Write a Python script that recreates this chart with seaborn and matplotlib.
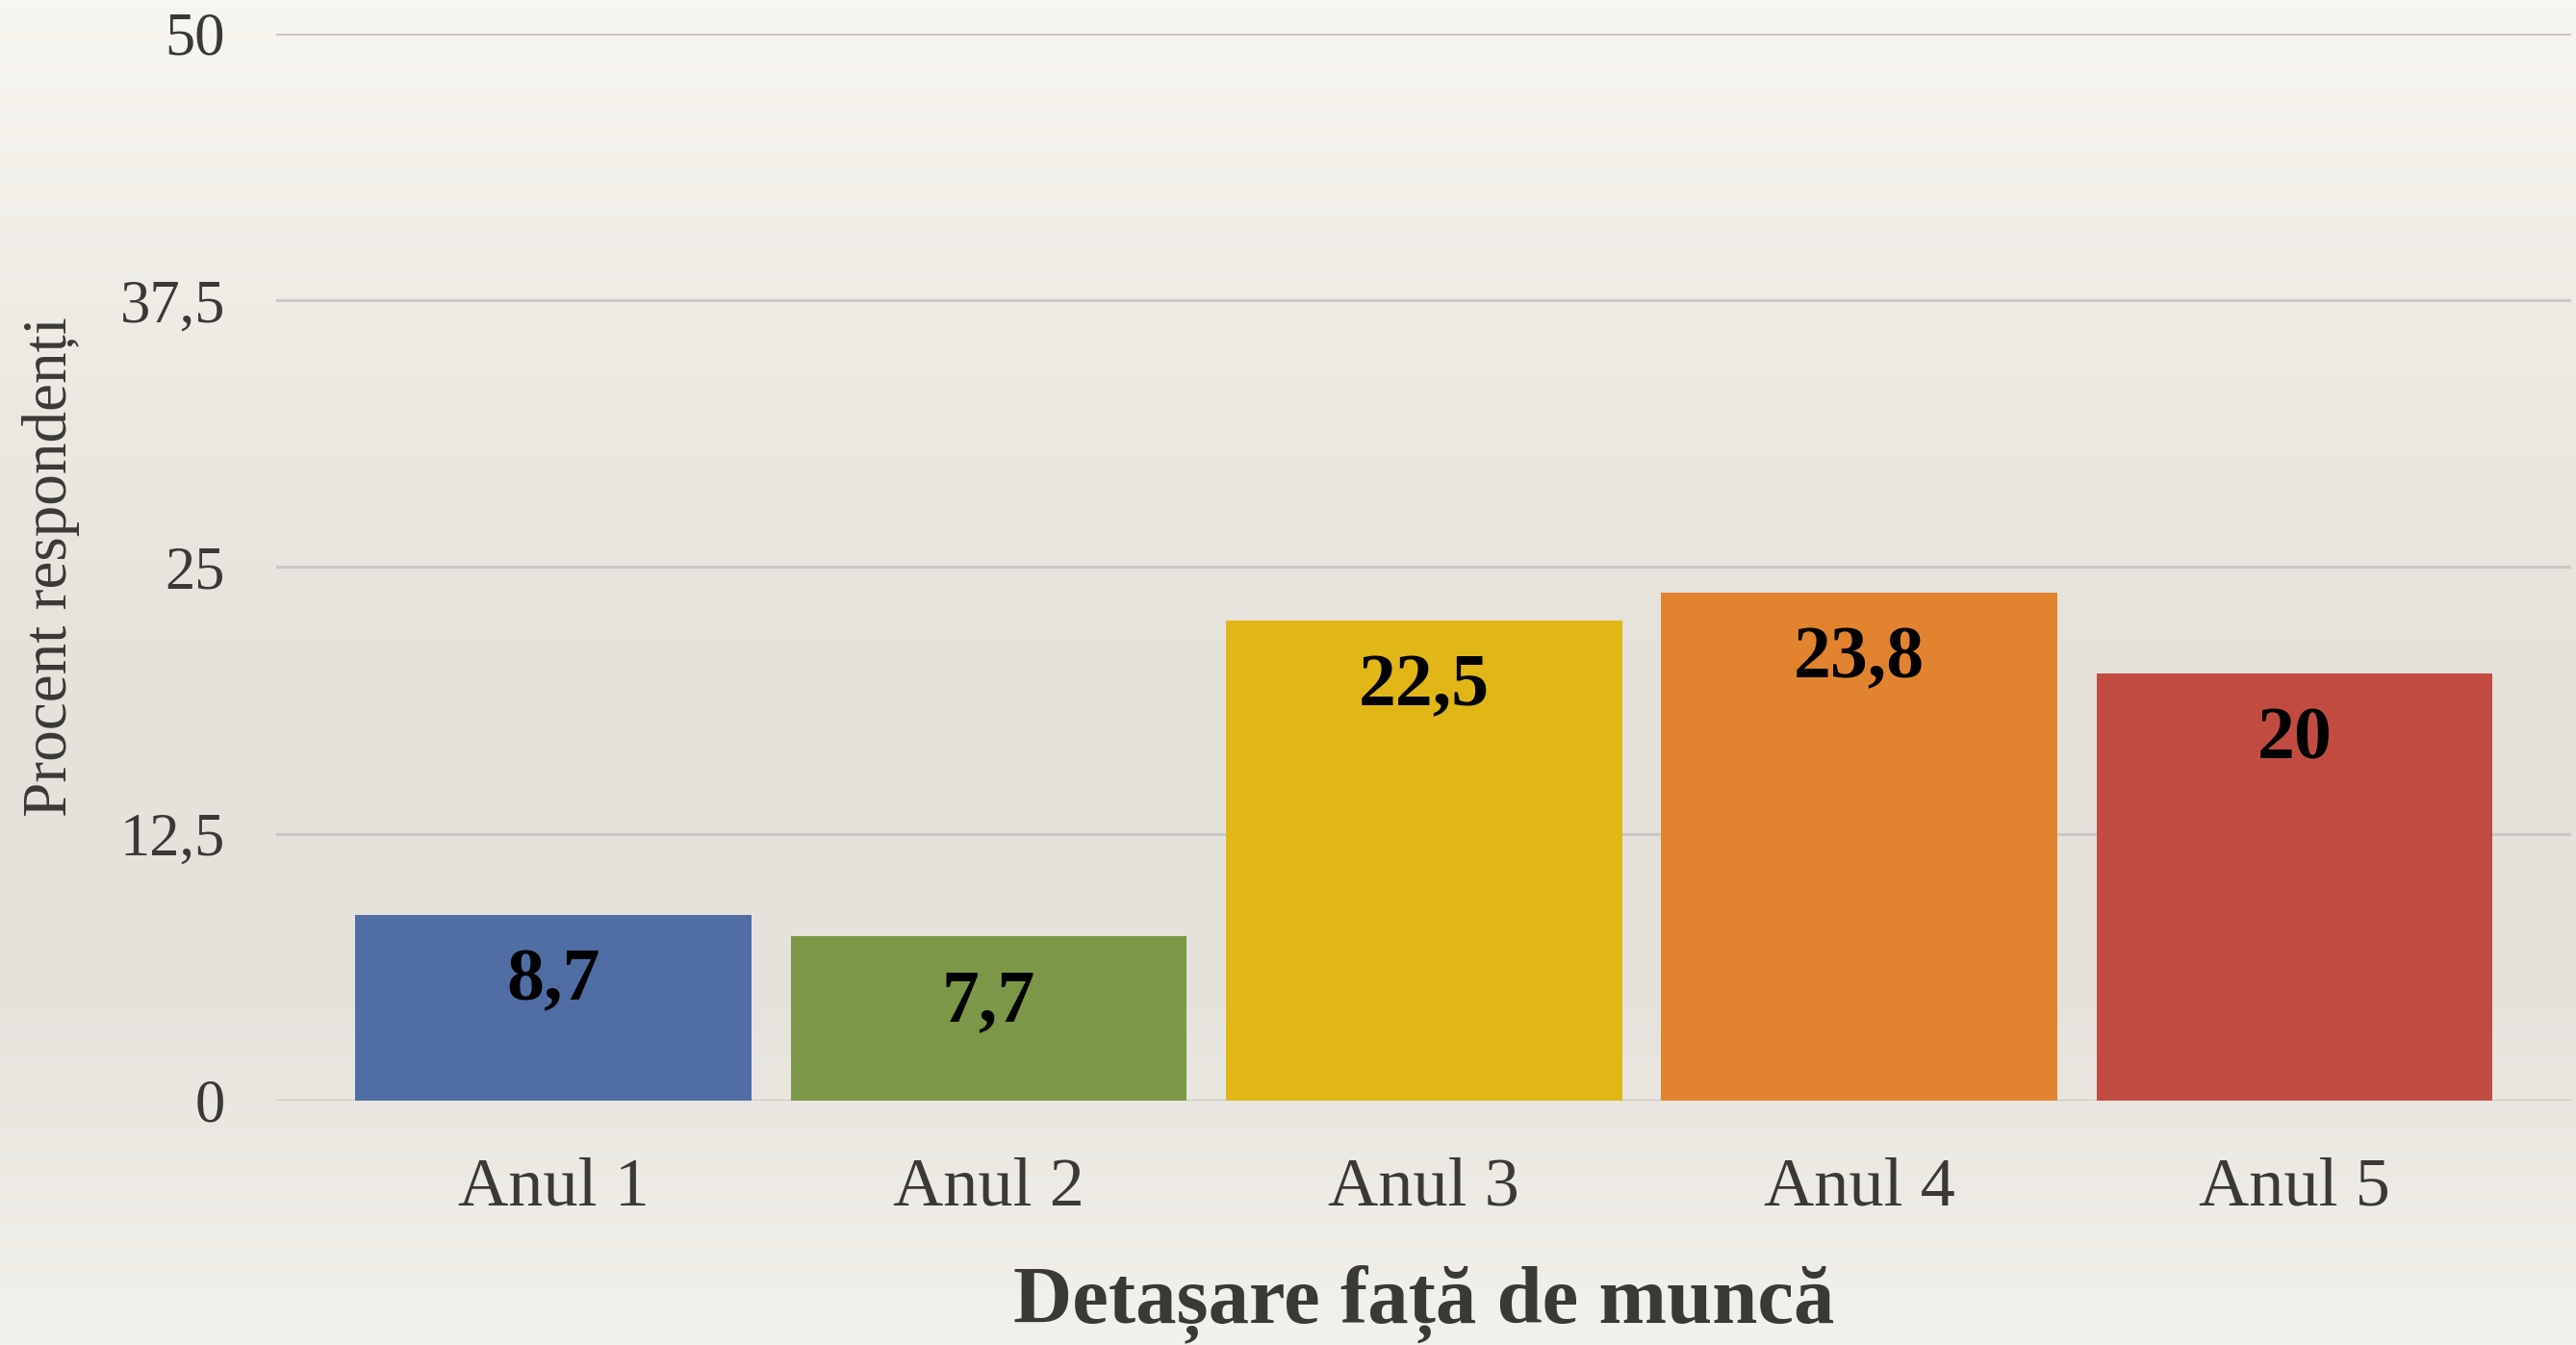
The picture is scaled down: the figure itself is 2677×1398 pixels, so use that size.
import numpy as np
import pandas as pd
import matplotlib
matplotlib.use("Agg")
import matplotlib.pyplot as plt
from matplotlib.colors import LinearSegmentedColormap
import seaborn as sns

years = ["Anul 1", "Anul 2", "Anul 3", "Anul 4", "Anul 5"]
percent = [8.7, 7.7, 22.5, 23.8, 20.0]
value_labels = ["8,7", "7,7", "22,5", "23,8", "20"]
bar_colors = ["#506ea4", "#7c9848", "#e1b617", "#e2842f", "#c24c41"]
y_ticks = [0, 12.5, 25, 37.5, 50]
y_tick_labels = ["0", "12,5", "25", "37,5", "50"]

df = pd.DataFrame({"an": years, "procent": percent})

sns.set_style("white")
plt.rcParams["font.family"] = ["Liberation Serif", "DejaVu Serif"]
text_color = "#3a3935"

fig = plt.figure(figsize=(26.77, 13.98), dpi=100)

# paper-like background gradient
bg = fig.add_axes([0, 0, 1, 1], zorder=-10)
paper = LinearSegmentedColormap.from_list(
    "paper", ["#f8f6f0", "#eeebe5", "#e5e2dc", "#e6e3dd", "#f3f1eb"])
bg.imshow(np.linspace(0, 1, 256).reshape(-1, 1), aspect="auto", cmap=paper,
          extent=[0, 1, 0, 1], origin="upper")
bg.set_axis_off()

ax = fig.add_axes([0.1072, 0.1817, 0.8908, 0.7933])
ax.patch.set_alpha(0)

sns.barplot(data=df, x="an", y="procent", hue="an", palette=bar_colors,
            saturation=1, width=0.91, legend=False, linewidth=0, ax=ax, zorder=3)

for i, (v, lab) in enumerate(zip(percent, value_labels)):
    ax.annotate(lab, (i, v), xytext=(0, -50), textcoords="offset points",
                ha="center", va="center", fontsize=56, fontweight="bold",
                color="black", zorder=4)

ax.set_ylim(0, 50)
ax.set_xlim(-0.637, 4.635)
ax.set_yticks(y_ticks)
ax.set_yticklabels(y_tick_labels)
ax.yaxis.grid(True, color="#c9c8c5", linewidth=2.2, zorder=0)
ax.set_axisbelow(True)
for s in ax.spines.values():
    s.set_visible(False)
ax.tick_params(axis="both", length=0, colors=text_color)
ax.tick_params(axis="y", pad=38, labelsize=45)
ax.tick_params(axis="x", pad=42, labelsize=52)

ax.set_ylabel("Procent respondenți", fontsize=47, color=text_color, labelpad=30)
ax.set_xlabel("Detașare față de muncă", fontsize=61, fontweight="bold",
              color=text_color, labelpad=34)

fig.savefig("out.png", dpi=100)
